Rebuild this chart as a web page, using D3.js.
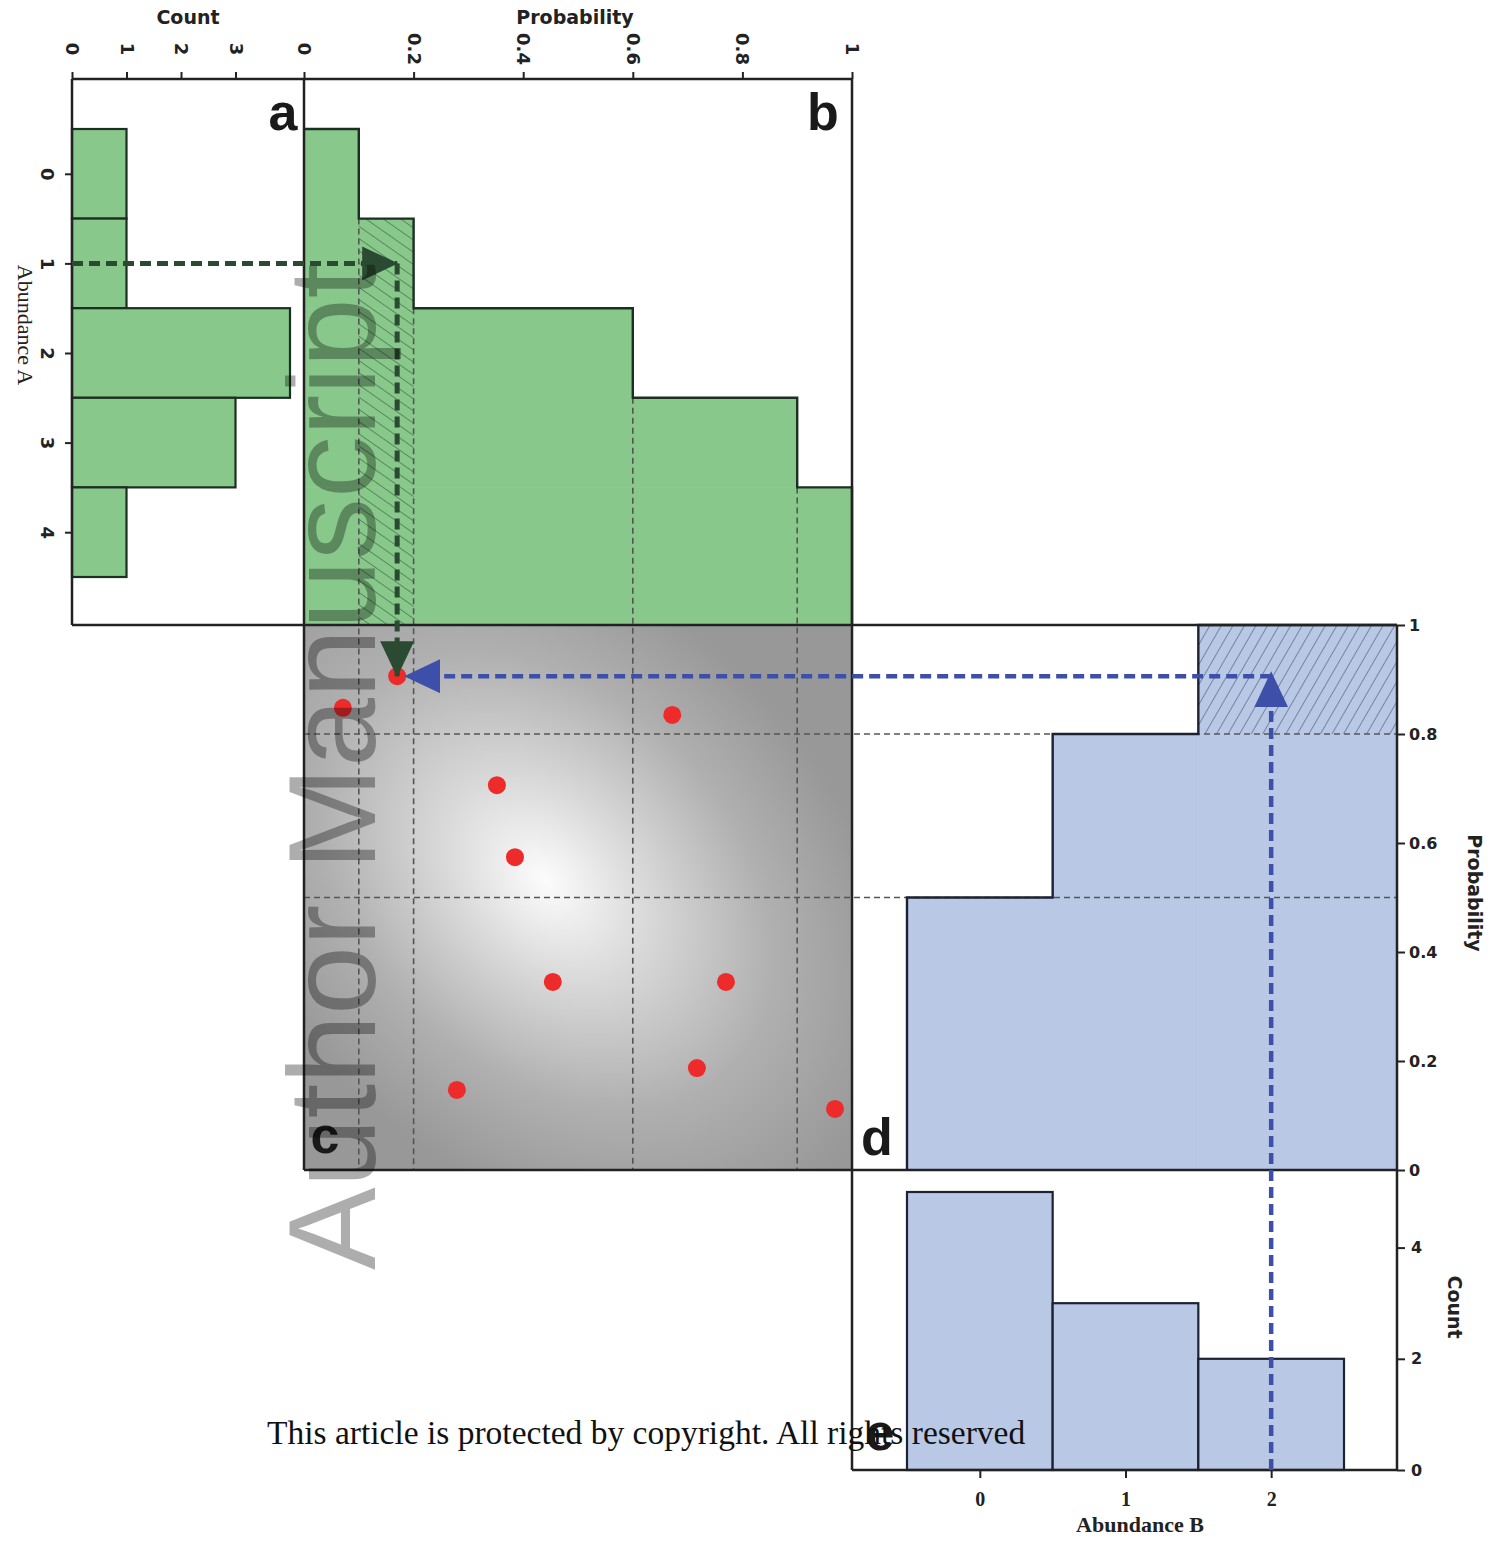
<!DOCTYPE html>
<meta charset="utf-8">

<style>
body { margin: 0; background: #fff; }
.frame { stroke: #222; stroke-width: 2.5; fill: none; }
.tickLabel { font-family: "DejaVu Sans", sans-serif; font-weight: bold; font-size: 16px; fill: #222; }
.axisTitle { font-family: "DejaVu Sans", sans-serif; font-weight: bold; font-size: 19px; fill: #222; }
.serifTitle { font-family: "Liberation Serif", serif; font-size: 22px; fill: #222; }
.panelLabel { font-family: "Liberation Sans", Arial, sans-serif; font-weight: bold; font-size: 52px; fill: #1a1a1a; }
.gridDash { stroke: #555; stroke-width: 1.6; stroke-dasharray: 6,4; fill: none; }
</style>

<svg width="1497" height="1551"></svg>

<script src="https://cdn.jsdelivr.net/npm/d3@7"></script>
<script>

const svg = d3.select("svg")

//observed abundances of species A and B (10 sites)
const abundanceA = [0, 1, 2, 3, 4]
const countA = [1, 1, 4, 3, 1]
const abundanceB = [0, 1, 2]
const countB = [5, 3, 2]

//copula samples (u for A, v for B)
const sampleU = [0.17, 0.071, 0.672, 0.352, 0.385, 0.454, 0.770, 0.717, 0.279, 0.969]
const sampleV = [0.906, 0.848, 0.835, 0.706, 0.574, 0.345, 0.345, 0.187, 0.147, 0.112]

//highlighted sample: A = 1, B = 2
const selA = 1, selB = 2, selIndex = 0

const probTicks = [0, 0.2, 0.4, 0.6, 0.8, 1]
const countTicksA = [0, 1, 2, 3]
const countTicksB = [0, 2, 4]

//cumulative probabilities
const cumA = Array.from(d3.cumsum(countA), d => d / d3.sum(countA))
const cumB = Array.from(d3.cumsum(countB), d => d / d3.sum(countB))

const green = "#88c98b", greenDark = "#2b4a32", greenLine = "#1d2e22"
const blue = "#b8c8e5", blueDark = "#3d4fa8", blueLine = "#1c2233"
const intFormat = d3.format("d"), probFormat = d3.format("~g")

//layout
const L = {aLeft: 72, bLeft: 304, bRight: 852, dRight: 1397, top: 79, mid: 625, cBottom: 1170, eBottom: 1470}

//scales
const xCount = d3.scaleLinear().domain([0, 4]).range([L.aLeft, 290])
const yA = d3.scaleLinear().domain([-0.5, 4.5]).range([129, 577])
const xProb = d3.scaleLinear().domain([0, 1]).range([L.bLeft, L.bRight])
const yProb = d3.scaleLinear().domain([0, 1]).range([L.cBottom, L.mid])
const xB = d3.scaleLinear().domain([-0.5, 2.5]).range([907, 1344])
const yCountB = d3.scaleLinear().domain([0, 5]).range([L.eBottom, 1192])

const defs = svg.append("defs")

//gradient for the copula density
const grad = defs.append("radialGradient")
    .attr("id", "copulaGrad")
    .attr("gradientUnits", "userSpaceOnUse")
    .attr("cx", 0).attr("cy", 0).attr("r", 300)
    .attr("gradientTransform", "translate(545,880) rotate(45) scale(1.35,0.95)")
grad.selectAll("stop")
    .data([[0, "#fcfcfc"], [0.3, "#d8d8d8"], [0.65, "#b0b0b0"], [1, "#989898"]])
    .enter().append("stop")
    .attr("offset", d => d[0])
    .attr("stop-color", d => d[1])

//hatch patterns
function hatch(id, angle, color) {
  const p = defs.append("pattern")
      .attr("id", id)
      .attr("patternUnits", "userSpaceOnUse")
      .attr("width", 10).attr("height", 10)
      .attr("patternTransform", `rotate(${angle})`)
  p.append("line")
      .attr("x1", 0).attr("y1", 0).attr("x2", 0).attr("y2", 10)
      .attr("stroke", color).attr("stroke-width", 1.1)
}
hatch("hatchGreen", -55, "#2f5236")
hatch("hatchBlue", 30, "#3b4a6e")

//arrow markers
function marker(id, color) {
  defs.append("marker")
      .attr("id", id)
      .attr("markerUnits", "userSpaceOnUse")
      .attr("markerWidth", 36).attr("markerHeight", 34)
      .attr("refX", 35).attr("refY", 17)
      .attr("orient", "auto")
    .append("path")
      .attr("d", "M 0 0 L 36 17 L 0 34 Z")
      .attr("fill", color)
}
marker("arrowGreen", greenDark)
marker("arrowBlue", blueDark)

/////////////////////////////////////////////////
//panel c background
svg.append("rect")
    .attr("x", L.bLeft).attr("y", L.mid)
    .attr("width", L.bRight - L.bLeft).attr("height", L.cBottom - L.mid)
    .attr("fill", "url(#copulaGrad)")

/////////////////////////////////////////////////
//panel a: count histogram of A
svg.append("g").selectAll("rect")
    .data(abundanceA)
    .enter().append("rect")
    .attr("x", xCount(0))
    .attr("y", d => yA(d - 0.5))
    .attr("width", (d, i) => xCount(countA[i]) - xCount(0))
    .attr("height", d => yA(d + 0.5) - yA(d - 0.5))
    .attr("fill", green)
    .attr("stroke", greenLine)
    .attr("stroke-width", 2.2)

/////////////////////////////////////////////////
//panel b: cumulative probability of A
const bBottom = (d, i) => i === abundanceA.length - 1 ? L.mid : yA(d + 0.5)
svg.append("g").selectAll("rect")
    .data(abundanceA)
    .enter().append("rect")
    .attr("x", xProb(0))
    .attr("y", d => yA(d - 0.5))
    .attr("width", (d, i) => xProb(cumA[i]) - xProb(0))
    .attr("height", (d, i) => bBottom(d, i) - yA(d - 0.5) + 0.5)
    .attr("fill", green)

//hatched interval of the selected abundance
svg.append("rect")
    .attr("x", xProb(cumA[selA - 1])).attr("y", yA(selA - 0.5))
    .attr("width", xProb(cumA[selA]) - xProb(cumA[selA - 1]))
    .attr("height", L.mid - yA(selA - 0.5))
    .attr("fill", "url(#hatchGreen)")

/////////////////////////////////////////////////
//panel d: cumulative probability of B
const dRight = (d, i) => i === abundanceB.length - 1 ? L.dRight : xB(d + 0.5)
svg.append("g").selectAll("rect")
    .data(abundanceB)
    .enter().append("rect")
    .attr("x", d => xB(d - 0.5))
    .attr("y", (d, i) => yProb(cumB[i]))
    .attr("width", (d, i) => dRight(d, i) - xB(d - 0.5) + 0.5)
    .attr("height", (d, i) => yProb(0) - yProb(cumB[i]))
    .attr("fill", blue)

svg.append("rect")
    .attr("x", xB(selB - 0.5)).attr("y", yProb(cumB[selB]))
    .attr("width", L.dRight - xB(selB - 0.5))
    .attr("height", yProb(cumB[selB - 1]) - yProb(cumB[selB]))
    .attr("fill", "url(#hatchBlue)")

/////////////////////////////////////////////////
//panel e: count histogram of B
svg.append("g").selectAll("rect")
    .data(abundanceB)
    .enter().append("rect")
    .attr("x", d => xB(d - 0.5))
    .attr("y", (d, i) => yCountB(countB[i]))
    .attr("width", d => xB(d + 0.5) - xB(d - 0.5))
    .attr("height", (d, i) => yCountB(0) - yCountB(countB[i]))
    .attr("fill", blue)
    .attr("stroke", blueLine)
    .attr("stroke-width", 2.2)

/////////////////////////////////////////////////
//dashed step boundaries
svg.append("g").selectAll("line")
    .data(abundanceA.slice(0, -1))
    .enter().append("line")
    .attr("class", "gridDash")
    .attr("x1", (d, i) => xProb(cumA[i])).attr("x2", (d, i) => xProb(cumA[i]))
    .attr("y1", d => yA(d + 0.5)).attr("y2", L.cBottom)

svg.append("g").selectAll("line")
    .data(abundanceB.slice(0, -1))
    .enter().append("line")
    .attr("class", "gridDash")
    .attr("y1", (d, i) => yProb(cumB[i])).attr("y2", (d, i) => yProb(cumB[i]))
    .attr("x1", L.bLeft).attr("x2", L.dRight)

//step outlines for b and d
const stepB = [[xProb(0), yA(-0.5)]]
abundanceA.forEach((d, i) => {
  stepB.push([xProb(cumA[i]), yA(d - 0.5)])
  stepB.push([xProb(cumA[i]), bBottom(d, i)])
})
svg.append("path")
    .attr("d", d3.line()(stepB))
    .attr("fill", "none").attr("stroke", greenLine).attr("stroke-width", 2.4)

const stepD = [[xB(-0.5), yProb(0)]]
abundanceB.forEach((d, i) => {
  stepD.push([xB(d - 0.5), yProb(cumB[i])])
  stepD.push([dRight(d, i), yProb(cumB[i])])
})
svg.append("path")
    .attr("d", d3.line()(stepD))
    .attr("fill", "none").attr("stroke", blueLine).attr("stroke-width", 2.4)

/////////////////////////////////////////////////
//frames
const frameLines = [
  [[L.aLeft, L.top], [L.bRight, L.top]],
  [[L.aLeft, L.top], [L.aLeft, L.mid]],
  [[L.bLeft, L.top], [L.bLeft, L.cBottom]],
  [[L.bRight, L.top], [L.bRight, L.eBottom]],
  [[L.aLeft, L.mid], [L.dRight, L.mid]],
  [[L.bLeft, L.cBottom], [L.dRight, L.cBottom]],
  [[L.dRight, L.mid], [L.dRight, L.eBottom]],
  [[L.bRight, L.eBottom], [L.dRight, L.eBottom]]
]
svg.append("g").selectAll("path")
    .data(frameLines)
    .enter().append("path")
    .attr("class", "frame")
    .attr("d", d => d3.line()(d))

/////////////////////////////////////////////////
//copula samples
svg.append("g").selectAll("circle")
    .data(sampleU)
    .enter().append("circle")
    .attr("cx", d => xProb(d))
    .attr("cy", (d, i) => yProb(sampleV[i]))
    .attr("r", 9)
    .attr("fill", "#ee2b2b")

/////////////////////////////////////////////////
//arrows for the selected sample
const sx = xProb(sampleU[selIndex]), sy = yProb(sampleV[selIndex])
const arrowLine = d3.line()
svg.append("path")
    .attr("d", arrowLine([[xCount(0), yA(selA)], [sx, yA(selA)]]))
    .attr("stroke", greenDark).attr("stroke-width", 5).attr("stroke-dasharray", "11,6")
    .attr("fill", "none").attr("marker-end", "url(#arrowGreen)")
svg.append("path")
    .attr("d", arrowLine([[sx, yA(selA)], [sx, sy]]))
    .attr("stroke", greenDark).attr("stroke-width", 5).attr("stroke-dasharray", "11,6")
    .attr("fill", "none").attr("marker-end", "url(#arrowGreen)")
svg.append("path")
    .attr("d", arrowLine([[xB(selB), L.eBottom], [xB(selB), sy - 4]]))
    .attr("stroke", blueDark).attr("stroke-width", 4.5).attr("stroke-dasharray", "11,6")
    .attr("fill", "none").attr("marker-end", "url(#arrowBlue)")
svg.append("path")
    .attr("d", arrowLine([[xB(selB), sy], [sx + 8, sy]]))
    .attr("stroke", blueDark).attr("stroke-width", 4.5).attr("stroke-dasharray", "11,6")
    .attr("fill", "none").attr("marker-end", "url(#arrowBlue)")

/////////////////////////////////////////////////
//axes
function styleAxis(g) {
  g.select(".domain").remove()
  g.selectAll(".tick line").attr("stroke", "#222").attr("stroke-width", 2)
  g.selectAll(".tick text").attr("class", "tickLabel")
}

//rotated labels on the top and left axes
function rotateLabels(g, dx, dy) {
  g.selectAll(".tick text")
      .attr("x", 0).attr("y", 0).attr("dy", null)
      .attr("text-anchor", "middle")
      .attr("dominant-baseline", "central")
      .attr("transform", `translate(${dx},${dy}) rotate(90)`)
      .style("font-size", "18px")
}

svg.append("g")
    .attr("transform", `translate(0,${L.top})`)
    .call(d3.axisTop(xCount).tickValues(countTicksA).tickFormat(intFormat).tickSize(7))
    .call(styleAxis)
    .call(g => rotateLabels(g, 0, -30))

svg.append("g")
    .attr("transform", `translate(0,${L.top})`)
    .call(d3.axisTop(xProb).tickValues(probTicks).tickFormat(probFormat).tickSize(7))
    .call(styleAxis)
    .call(g => rotateLabels(g, 0, -30))

svg.append("g")
    .attr("transform", `translate(${L.aLeft},0)`)
    .call(d3.axisLeft(yA).tickValues(abundanceA).tickFormat(intFormat).tickSize(7))
    .call(styleAxis)
    .call(g => rotateLabels(g, -25, 0))

svg.append("g")
    .attr("transform", `translate(${L.dRight},0)`)
    .call(d3.axisRight(yProb).tickValues(probTicks).tickFormat(probFormat).tickSize(8).tickPadding(4))
    .call(styleAxis)

svg.append("g")
    .attr("transform", `translate(${L.dRight},0)`)
    .call(d3.axisRight(yCountB).tickValues(countTicksB).tickFormat(intFormat).tickSize(8).tickPadding(6))
    .call(styleAxis)

svg.append("g")
    .attr("transform", `translate(0,${L.eBottom})`)
    .call(d3.axisBottom(xB).tickValues(abundanceB).tickFormat(intFormat).tickSize(8).tickPadding(14))
    .call(styleAxis)
    .call(g => g.selectAll(".tick text")
        .style("font-family", "'Liberation Serif', serif").style("font-size", "20px"))

//axis titles
svg.append("text").attr("class", "axisTitle")
    .attr("x", 188).attr("y", 24).attr("text-anchor", "middle").text("Count")
svg.append("text").attr("class", "axisTitle")
    .attr("x", 575).attr("y", 24).attr("text-anchor", "middle").text("Probability")
svg.append("text").attr("class", "axisTitle")
    .attr("transform", "translate(1468,893) rotate(90)")
    .attr("text-anchor", "middle").text("Probability")
svg.append("text").attr("class", "axisTitle")
    .attr("transform", "translate(1448,1307) rotate(90)")
    .attr("text-anchor", "middle").text("Count")
svg.append("text").attr("class", "serifTitle")
    .attr("transform", "translate(18,325) rotate(90)")
    .attr("text-anchor", "middle").text("Abundance A")
svg.append("text").attr("class", "serifTitle")
    .attr("x", 1140).attr("y", 1532).attr("text-anchor", "middle")
    .style("font-weight", "bold").text("Abundance B")

//panel letters
const panelLetters = [["a", 283, 130], ["b", 823, 130], ["c", 325, 1153], ["d", 877, 1155], ["e", 880, 1450]]
svg.append("g").selectAll("text")
    .data(panelLetters)
    .enter().append("text")
    .attr("class", "panelLabel")
    .attr("x", d => d[1]).attr("y", d => d[2])
    .attr("text-anchor", "middle")
    .text(d => d[0])

/////////////////////////////////////////////////
//watermark and footer
svg.append("text")
    .attr("transform", "translate(375,1270) rotate(-90)")
    .style("font-family", "'Liberation Sans', Arial, sans-serif")
    .style("font-size", "124px")
    .attr("fill", "#000")
    .attr("fill-opacity", 0.32)
    .text("Author Manuscript")

svg.append("text")
    .attr("x", 267).attr("y", 1444)
    .style("font-family", "'Liberation Serif', serif")
    .style("font-size", "33.5px")
    .attr("fill", "#111")
    .text("This article is protected by copyright. All rights reserved")

</script>
